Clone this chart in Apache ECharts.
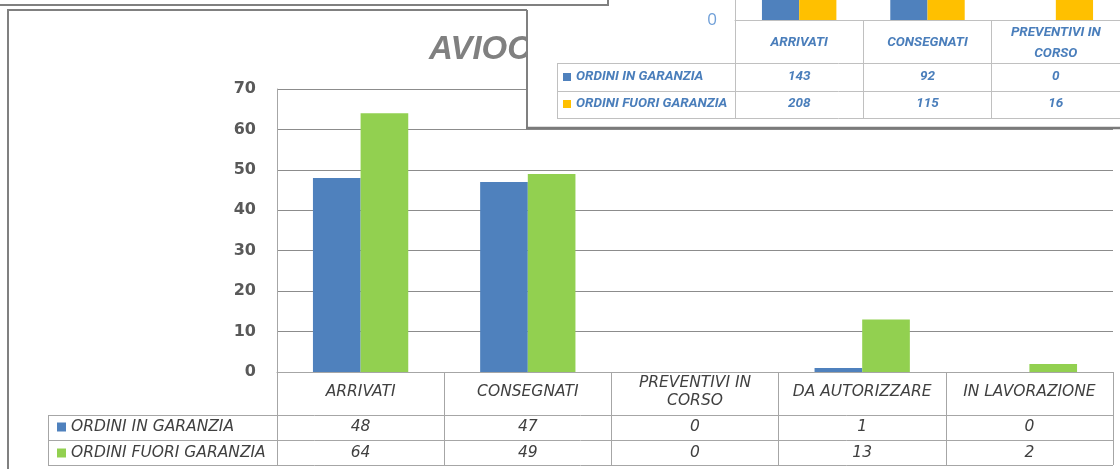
<!DOCTYPE html>
<html>
<head>
<meta charset="utf-8">
<script src="https://cdn.jsdelivr.net/npm/echarts@6/dist/echarts.min.js"></script>
<style>
html,body{margin:0;padding:0;background:#fff;}
#c{width:1120px;height:469px;}
</style>
</head>
<body>
<div id="c"></div>
<script>
// ---- main chart data ----
var categories = ['ARRIVATI', 'CONSEGNATI', 'PREVENTIVI IN\nCORSO', 'DA AUTORIZZARE', 'IN LAVORAZIONE'];
var seriesNames = ['ORDINI IN GARANZIA', 'ORDINI FUORI GARANZIA'];
var inGaranzia = [48, 47, 0, 1, 0];
var fuoriGaranzia = [64, 49, 0, 13, 2];
var yTicks = { min: 0, max: 70, interval: 10 };
var titleText = 'AVIOC';

// ---- overlapping window (second chart, partly visible) ----
var ovCategories = ['ARRIVATI', 'CONSEGNATI', 'PREVENTIVI IN\nCORSO'];
var ovInGaranzia = [143, 92, 0];
var ovFuoriGaranzia = [208, 115, 16];
var ovTicks = { min: 0, max: 10, interval: 10 };

var GRAY_TXT = '#404040';
var BLUE = '#4f81bd', GREEN = '#92d050', YELLOW = '#ffc000';
var OV_TXT = '#4a7ebb';
var FONT = 'DejaVu Sans';

var chart = echarts.init(document.getElementById('c'), null, { renderer: 'canvas' });

function hline(x1, x2, y, color, w, z) {
  return { type: 'line', shape: { x1: x1, y1: y, x2: x2, y2: y }, style: { stroke: color, lineWidth: w }, z: z, silent: true };
}
function vline(x, y1, y2, color, w, z) {
  return { type: 'line', shape: { x1: x, y1: y1, x2: x, y2: y2 }, style: { stroke: color, lineWidth: w }, z: z, silent: true };
}

var tableLine = '#a6a6a6';
var ovLine = '#c0c0c0';
var mainTxt = { fontFamily: FONT, fontSize: 15.5, fontStyle: 'italic', color: GRAY_TXT };
var ovTxt = { fontFamily: 'Roboto', fontSize: 13.5, fontStyle: 'italic', fontWeight: 'bold', color: OV_TXT };

var option = {
  animation: false,
  backgroundColor: '#fff',
  title: {
    text: titleText,
    left: 424, top: 28,
    textStyle: { fontFamily: 'Liberation Sans', fontSize: 33, fontWeight: 'bold', fontStyle: 'italic', color: '#808080' },
    z: 2
  },
  legend: [
    {
      data: seriesNames,
      orient: 'vertical', left: 57, top: 419, padding: 0,
      itemWidth: 9, itemHeight: 9, itemGap: 10, icon: 'rect',
      textStyle: Object.assign({ lineHeight: 16 }, mainTxt),
      selectedMode: false
    },
    {
      data: ['OV_IN', 'OV_FUORI'],
      formatter: function (n) { return n === 'OV_IN' ? seriesNames[0] : seriesNames[1]; },
      orient: 'vertical', left: 563, top: 70, padding: 0,
      itemWidth: 8, itemHeight: 8, itemGap: 13, icon: 'rect',
      textStyle: Object.assign({ lineHeight: 14 }, ovTxt),
      selectedMode: false, z: 62
    }
  ],
  grid: [
    { left: 277, top: 89, width: 836, height: 283 },
    { left: 735, top: 0, width: 390, height: 20 }
  ],
  xAxis: [
    {
      type: 'category', gridIndex: 0, data: categories,
      axisLine: { lineStyle: { color: '#a6a6a6', width: 1 } },
      axisTick: { show: true, length: 93, lineStyle: { color: tableLine } },
      axisLabel: Object.assign({ interval: 0, margin: 20, verticalAlign: 'middle', lineHeight: 18 }, mainTxt)
    },
    {
      type: 'category', gridIndex: 0, data: categories, position: 'bottom', offset: 43,
      axisLine: { show: false }, axisTick: { show: false },
      axisLabel: Object.assign({ interval: 0, margin: 12, verticalAlign: 'middle',
        formatter: function (v, i) { return String(inGaranzia[i]); } }, mainTxt)
    },
    {
      type: 'category', gridIndex: 0, data: categories, position: 'bottom', offset: 68,
      axisLine: { show: false }, axisTick: { show: false },
      axisLabel: Object.assign({ interval: 0, margin: 13, verticalAlign: 'middle',
        formatter: function (v, i) { return String(fuoriGaranzia[i]); } }, mainTxt)
    },
    {
      type: 'category', gridIndex: 1, data: ovCategories, z: 60,
      axisLine: { lineStyle: { color: ovLine, width: 1 } },
      axisTick: { show: true, length: 98, lineStyle: { color: ovLine } },
      axisLabel: Object.assign({ interval: 0, margin: 23, verticalAlign: 'middle', lineHeight: 21 }, ovTxt)
    },
    {
      type: 'category', gridIndex: 1, data: ovCategories, position: 'bottom', offset: 43, z: 60,
      axisLine: { show: false }, axisTick: { show: false },
      axisLabel: Object.assign({ interval: 0, margin: 14, verticalAlign: 'middle',
        formatter: function (v, i) { return String(ovInGaranzia[i]); } }, ovTxt)
    },
    {
      type: 'category', gridIndex: 1, data: ovCategories, position: 'bottom', offset: 71, z: 60,
      axisLine: { show: false }, axisTick: { show: false },
      axisLabel: Object.assign({ interval: 0, margin: 13, verticalAlign: 'middle',
        formatter: function (v, i) { return String(ovFuoriGaranzia[i]); } }, ovTxt)
    }
  ],
  yAxis: [
    {
      type: 'value', gridIndex: 0, min: yTicks.min, max: yTicks.max, interval: yTicks.interval,
      axisLine: { show: true, lineStyle: { color: '#a6a6a6' } },
      axisTick: { show: false },
      splitLine: { lineStyle: { color: '#8c8c8c', width: 1 } },
      axisLabel: { margin: 21, fontFamily: FONT, fontSize: 16, fontWeight: 'bold', color: '#595959' }
    },
    {
      type: 'value', gridIndex: 1, min: ovTicks.min, max: ovTicks.max, interval: ovTicks.interval, z: 60,
      axisLine: { show: true, lineStyle: { color: ovLine } },
      axisTick: { show: false },
      splitLine: { show: false },
      axisLabel: { margin: 18, showMaxLabel: false, verticalAlign: 'middle', padding: [0, 0, 6, 0], fontFamily: 'Open Sans', fontSize: 17, color: '#6f9fd8' }
    }
  ],
  series: [
    {
      name: seriesNames[0], type: 'bar', xAxisIndex: 0, yAxisIndex: 0, data: inGaranzia,
      barGap: '0%', barCategoryGap: '43%',
      itemStyle: { color: BLUE }
    },
    {
      name: seriesNames[1], type: 'bar', xAxisIndex: 0, yAxisIndex: 0, data: fuoriGaranzia,
      barGap: '0%', barCategoryGap: '43%',
      itemStyle: { color: GREEN }
    },
    {
      name: 'OV_IN', type: 'bar', xAxisIndex: 3, yAxisIndex: 1, data: ovInGaranzia, z: 60,
      barGap: '0%', barCategoryGap: '42%', clip: true,
      itemStyle: { color: BLUE }
    },
    {
      name: 'OV_FUORI', type: 'bar', xAxisIndex: 3, yAxisIndex: 1, data: ovFuoriGaranzia, z: 60,
      barGap: '0%', barCategoryGap: '42%', clip: true,
      itemStyle: { color: YELLOW }
    }
  ],
  graphic: [
    // main chart frame
    hline(7, 527, 10, '#808080', 2, 1),
    vline(8, 9, 470, '#808080', 2, 1),
    // main data table lines
    hline(48, 1113, 415.5, tableLine, 1, 3),
    hline(48, 1113, 440.5, tableLine, 1, 3),
    hline(48, 1113, 465.5, tableLine, 1, 3),
    vline(48.5, 415, 466, tableLine, 1, 3),
    // overlapping window background and border
    { type: 'rect', shape: { x: 527, y: -5, width: 600, height: 133 }, style: { fill: '#fff' }, z: 50, silent: true },
    vline(527, 10, 129, '#808080', 2, 59),
    hline(526, 1120, 128, '#7a7a7a', 2.5, 59),
    hline(557, 1120, 63.5, ovLine, 1, 61),
    hline(557, 1120, 91.5, ovLine, 1, 61),
    hline(557, 1120, 118.5, ovLine, 1, 61),
    vline(557.5, 63, 119, ovLine, 1, 61),
    // window behind, at the very top
    { type: 'rect', shape: { x: -5, y: -5, width: 613, height: 10 }, style: { fill: '#fff', stroke: '#808080', lineWidth: 2 }, z: 70, silent: true }
  ]
};
chart.setOption(option);
</script>
</body>
</html>
